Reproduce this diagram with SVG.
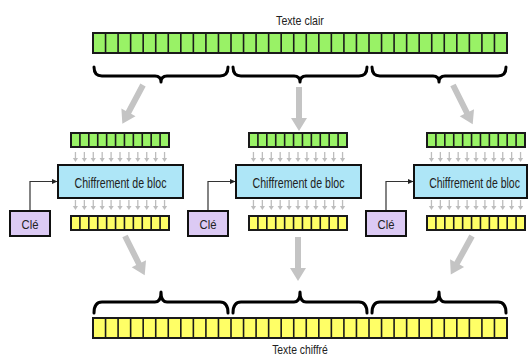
<svg xmlns="http://www.w3.org/2000/svg" xmlns:xlink="http://www.w3.org/1999/xlink" width="528" height="356" viewBox="0 0 528 356">
<style>
.t{font-family:"Liberation Sans",Arial,sans-serif;fill:#222;text-anchor:middle}
.bar{stroke:#1a1a1a;stroke-width:2}
.div{stroke:#1a1a1a;stroke-width:1.6;fill:none}
.g{fill:#99f266}
.y{fill:#ffff66}
.box{fill:#aee6f7;stroke:#111;stroke-width:2}
.key{fill:#dccaf4;stroke:#111;stroke-width:2}
.brace{fill:none;stroke:#000;stroke-width:3;stroke-linejoin:round;stroke-linecap:round}
.big{fill:#c4c4c4}
.kc{fill:none;stroke:#333;stroke-width:1.2}
</style>
<defs>
<marker id="ah" markerWidth="6" markerHeight="6" refX="5" refY="3" orient="auto" markerUnits="userSpaceOnUse"><path d="M0,0.5 L5.5,3 L0,5.5 Z" fill="#222"/></marker>
<path id="bigArrow" d="M-3,0 L3,0 L3,31 L8,31 L0,44 L-8,31 L-3,31 Z"/>
<path id="cells11" d="M8.91,0V14M17.82,0V14M26.73,0V14M35.64,0V14M44.55,0V14M53.45,0V14M62.36,0V14M71.27,0V14M80.18,0V14M89.09,0V14"/>
<g id="sa"><line x1="0" y1="0" x2="0" y2="6.5" stroke="#bdbdbd" stroke-width="1.3"/><polygon points="-2.6,6 2.6,6 0,10" fill="#bdbdbd"/></g>
<g id="arrows11">
<use xlink:href="#sa" x="4.45"/><use xlink:href="#sa" x="13.36"/><use xlink:href="#sa" x="22.27"/><use xlink:href="#sa" x="31.18"/><use xlink:href="#sa" x="40.09"/><use xlink:href="#sa" x="49"/><use xlink:href="#sa" x="57.91"/><use xlink:href="#sa" x="66.82"/><use xlink:href="#sa" x="75.73"/><use xlink:href="#sa" x="84.64"/><use xlink:href="#sa" x="93.55"/>
</g>
<path id="cells33" d="M105.55,0V20M118.09,0V20M130.64,0V20M143.18,0V20M155.73,0V20M168.27,0V20M180.82,0V20M193.36,0V20M205.91,0V20M218.45,0V20M231,0V20M243.55,0V20M256.09,0V20M268.64,0V20M281.18,0V20M293.73,0V20M306.27,0V20M318.82,0V20M331.36,0V20M343.91,0V20M356.45,0V20M369,0V20M381.55,0V20M394.09,0V20M406.64,0V20M419.18,0V20M431.73,0V20M444.27,0V20M456.82,0V20M469.36,0V20M481.91,0V20M494.45,0V20"/>
</defs>

<g id="plaintext">
<text class="t" transform="translate(300,25) scale(0.85,1)" font-size="12.5">Texte clair</text>
<rect class="bar g" x="93" y="33" width="414" height="20"/>
<use xlink:href="#cells33" y="33" class="div"/>
</g>

<g id="plaintext-braces">
<path class="brace" d="M94,67 Q94,76 102,76 L155,76 Q161,76 161,82 Q161,76 167,76 L220,76 Q228,76 228,67"/>
<path class="brace" d="M233,67 Q233,76 241,76 L294,76 Q300,76 300,82 Q300,76 306,76 L359,76 Q367,76 367,67"/>
<path class="brace" d="M372,67 Q372,76 380,76 L433,76 Q439,76 439,82 Q439,76 445,76 L498,76 Q506,76 506,67"/>
</g>

<g id="block1">
<g id="in1"><rect class="bar g" x="71" y="133" width="98" height="14"/><use xlink:href="#cells11" x="71" y="133" class="div"/></g>
<g id="cipher1"><rect class="box" x="58" y="165" width="125" height="33"/><text class="t" transform="translate(120.5,188) scale(0.76,1)" font-size="14">Chiffrement de bloc</text></g>
<g id="out1"><rect class="bar y" x="71" y="216" width="98" height="14"/><use xlink:href="#cells11" x="71" y="216" class="div"/></g>
<g id="key1"><rect class="key" x="10" y="211" width="40" height="25"/><text class="t" transform="translate(30,228.5) scale(0.9,1)" font-size="12.5">Clé</text></g>
</g>

<g id="block2">
<g id="in2"><rect class="bar g" x="249" y="133" width="98" height="14"/><use xlink:href="#cells11" x="249" y="133" class="div"/></g>
<g id="cipher2"><rect class="box" x="236" y="165" width="125" height="33"/><text class="t" transform="translate(298.5,188) scale(0.76,1)" font-size="14">Chiffrement de bloc</text></g>
<g id="out2"><rect class="bar y" x="249" y="216" width="98" height="14"/><use xlink:href="#cells11" x="249" y="216" class="div"/></g>
<g id="key2"><rect class="key" x="188" y="211" width="40" height="25"/><text class="t" transform="translate(208,228.5) scale(0.9,1)" font-size="12.5">Clé</text></g>
</g>

<g id="block3">
<g id="in3"><rect class="bar g" x="427" y="133" width="98" height="14"/><use xlink:href="#cells11" x="427" y="133" class="div"/></g>
<g id="cipher3"><rect class="box" x="414" y="165" width="113" height="33"/><text class="t" transform="translate(474.5,188) scale(0.75,1)" font-size="14">Chiffrement de bloc</text></g>
<g id="out3"><rect class="bar y" x="427" y="216" width="98" height="14"/><use xlink:href="#cells11" x="427" y="216" class="div"/></g>
<g id="key3"><rect class="key" x="366" y="211" width="40" height="25"/><text class="t" transform="translate(386,228.5) scale(0.9,1)" font-size="12.5">Clé</text></g>
</g>

<g id="ciphertext-braces">
<path class="brace" d="M94,313 Q94,302 102,302 L155,302 Q161,302 161,292 Q161,302 167,302 L220,302 Q228,302 228,313"/>
<path class="brace" d="M233,313 Q233,302 241,302 L294,302 Q300,302 300,292 Q300,302 306,302 L359,302 Q367,302 367,313"/>
<path class="brace" d="M372,313 Q372,302 380,302 L433,302 Q439,302 439,292 Q439,302 445,302 L498,302 Q506,302 506,313"/>
</g>

<g id="ciphertext">
<rect class="bar y" x="93" y="318" width="414" height="20"/>
<use xlink:href="#cells33" y="318" class="div"/>
<text class="t" transform="translate(300,353.5) scale(0.83,1)" font-size="12.5">Texte chiffré</text>
</g>

<g id="connectors">
<g class="big">
<use xlink:href="#bigArrow" transform="translate(143,85) rotate(28)"/>
<use xlink:href="#bigArrow" transform="translate(299,87)"/>
<use xlink:href="#bigArrow" transform="translate(453,85) rotate(-26.6)"/>
<use xlink:href="#bigArrow" transform="translate(125,236) rotate(-26.6)"/>
<use xlink:href="#bigArrow" transform="translate(298,237)"/>
<use xlink:href="#bigArrow" transform="translate(472,236) rotate(28.8)"/>
</g>
<use xlink:href="#arrows11" x="71" y="152"/>
<use xlink:href="#arrows11" x="71" y="200"/>
<use xlink:href="#arrows11" x="249" y="152"/>
<use xlink:href="#arrows11" x="249" y="200"/>
<use xlink:href="#arrows11" x="427" y="152"/>
<use xlink:href="#arrows11" x="427" y="200"/>
<path class="kc" d="M30,210 V181.5 H57" marker-end="url(#ah)"/>
<path class="kc" d="M208,210 V181.5 H235" marker-end="url(#ah)"/>
<path class="kc" d="M386,210 V181.5 H413" marker-end="url(#ah)"/>
</g>
</svg>
